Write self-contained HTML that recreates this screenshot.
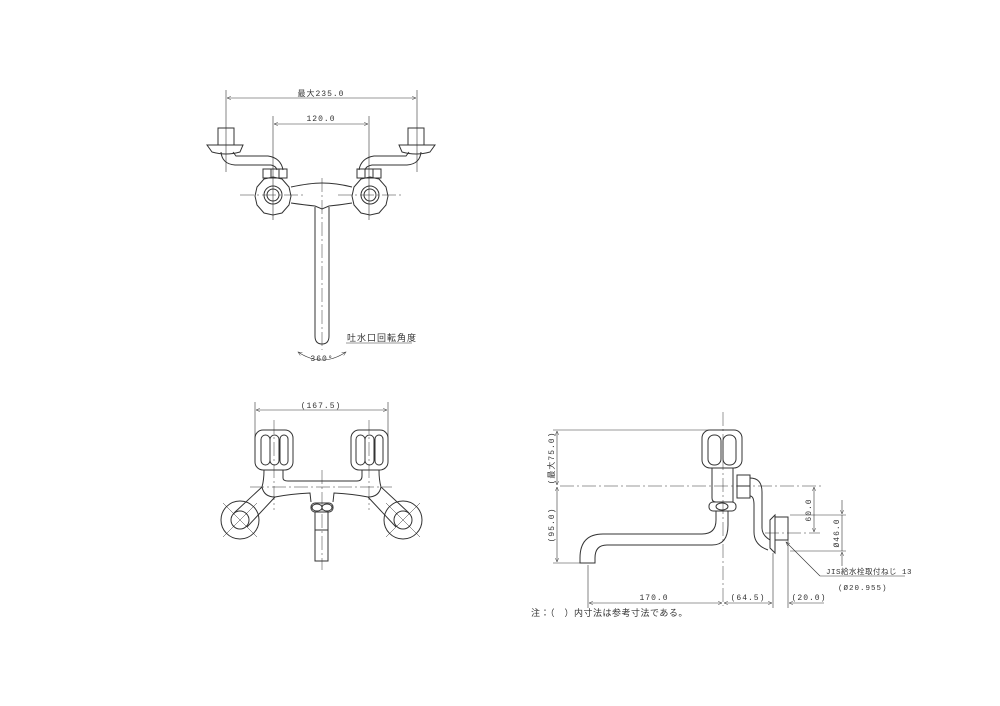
<!DOCTYPE html>
<html><head><meta charset="utf-8"><style>
html,body{margin:0;padding:0;background:#fff;}
svg{display:block;}
text{font-family:"Liberation Mono","Noto Sans CJK JP",monospace;fill:#333;letter-spacing:1px;}
</style></head><body>
<svg width="1000" height="706" viewBox="0 0 1000 706" xmlns="http://www.w3.org/2000/svg">
<defs>
<marker id="a" markerWidth="8" markerHeight="6" refX="7" refY="3" orient="auto-start-reverse"><path d="M0,0 L7,3 L0,6" fill="none" stroke="#444" stroke-width="0.8"/></marker>
</defs>
<g fill="none" stroke="#333" stroke-width="1">
<line x1="226" y1="90" x2="226" y2="172" stroke-width="0.6"/>
<line x1="417" y1="90" x2="417" y2="172" stroke-width="0.6"/>
<line x1="227" y1="98" x2="416" y2="98" stroke-width="0.6" marker-start="url(#a)" marker-end="url(#a)"/>
<line x1="273" y1="116" x2="273" y2="220" stroke-width="0.6"/>
<line x1="369" y1="116" x2="369" y2="220" stroke-width="0.6"/>
<line x1="274" y1="124" x2="368" y2="124" stroke-width="0.6" marker-start="url(#a)" marker-end="url(#a)"/>
<rect x="218" y="128" width="16" height="17"/>
<path d="M207,145 L243,145 L240,152 Q226,156 212,152 Z"/>
<path d="M221,152 Q222,164 235,165 L271,165 Q276,166 277,170"/>
<path d="M233,152 L236,156 L268,156 Q281,158 283,170"/>
<rect x="408" y="128" width="16" height="17"/>
<path d="M399,145 L435,145 L430,152 Q416,156 402,152 Z"/>
<path d="M421,152 Q420,164 407,165 L372,165 Q366,166 365,170"/>
<path d="M409,152 L406,156 L374,156 Q361,158 359,170"/>
<rect x="263" y="169" width="24" height="9"/>
<line x1="271" y1="169" x2="271" y2="178"/><line x1="279" y1="169" x2="279" y2="178"/>
<rect x="357" y="169" width="24" height="9"/>
<line x1="365" y1="169" x2="365" y2="178"/><line x1="373" y1="169" x2="373" y2="178"/>
<path d="M273,177 l9,2 l7,8 l2,9 l-2,9 l-7,8 l-9,2 l-9,-2 l-7,-8 l-2,-9 l2,-9 l7,-8 z"/>
<circle cx="273" cy="195" r="9"/><circle cx="273" cy="195" r="6"/>
<path d="M370,177 l9,2 l7,8 l2,9 l-2,9 l-7,8 l-9,2 l-9,-2 l-7,-8 l-2,-9 l2,-9 l7,-8 z"/>
<circle cx="370" cy="195" r="9"/><circle cx="370" cy="195" r="6"/>
<path d="M291,187 Q310,183 322,183 Q336,183 352,187"/>
<path d="M291,203 Q305,205 315,206 L322,209 L329,206 Q340,205 352,203"/>
<path d="M315,207 L315,336 Q315,344 322,344 Q329,344 329,336 L329,207"/>
<g stroke-width="0.5" stroke-dasharray="14,3,2,3">
<line x1="240" y1="195" x2="305" y2="195"/><line x1="338" y1="195" x2="403" y2="195"/>
<line x1="322" y1="178" x2="322" y2="350"/>
</g>
<line x1="346" y1="343" x2="412" y2="343" stroke-width="0.6"/>
<path d="M298,352 Q322,368 346,352" stroke-width="0.6" marker-start="url(#a)" marker-end="url(#a)"/>

<line x1="255" y1="402" x2="255" y2="450" stroke-width="0.6"/>
<line x1="388" y1="402" x2="388" y2="450" stroke-width="0.6"/>
<line x1="256" y1="410" x2="387" y2="410" stroke-width="0.6" marker-start="url(#a)" marker-end="url(#a)"/>
<rect x="255" y="430" width="38" height="40" rx="8"/>
<rect x="261" y="435" width="9" height="30" rx="4.5"/><rect x="270" y="435" width="9" height="30" rx="4.5"/><rect x="280" y="435" width="8" height="30" rx="4"/>
<rect x="351" y="430" width="37" height="40" rx="8"/>
<rect x="356" y="435" width="9" height="30" rx="4.5"/><rect x="365" y="435" width="9" height="30" rx="4.5"/><rect x="375" y="435" width="8" height="30" rx="4"/>
<path d="M283,470 L283,478 Q283,481 288,481 L357,481 Q362,481 362,476 L362,470"/>
<path d="M264,470 Q264,480 262,487 Q264,497 275,497 Q290,494 310,493 L311,502"/>
<path d="M379,470 Q379,480 381,487 Q379,497 368,497 Q353,494 334,493 L333,502"/>
<circle cx="240" cy="520" r="19"/><circle cx="240" cy="520" r="9"/>
<circle cx="403" cy="520" r="19"/><circle cx="403" cy="520" r="9"/>
<path d="M262,487 L234,513 M275,497 L247,527"/>
<path d="M381,487 L409,513 M368,497 L396,527"/>
<g stroke-width="0.5">
<line x1="223" y1="503" x2="257" y2="537"/><line x1="257" y1="503" x2="223" y2="537"/>
<line x1="386" y1="503" x2="420" y2="537"/><line x1="420" y1="503" x2="386" y2="537"/>
</g>
<rect x="311" y="503" width="22" height="9" rx="4"/>
<ellipse cx="317" cy="507.5" rx="5" ry="3.5"/><ellipse cx="327" cy="507.5" rx="5" ry="3.5"/>
<path d="M315,512 L315,561 L328,561 L328,512"/><line x1="315" y1="530" x2="328" y2="530"/>
<g stroke-width="0.5" stroke-dasharray="14,3,2,3">
<line x1="250" y1="487" x2="392" y2="487"/>
<line x1="274" y1="420" x2="274" y2="510"/><line x1="369" y1="420" x2="369" y2="510"/>
<line x1="322" y1="470" x2="322" y2="570"/>
</g>

<line x1="553" y1="430" x2="720" y2="430" stroke-width="0.6"/>
<line x1="553" y1="563" x2="590" y2="563" stroke-width="0.6"/>
<line x1="557" y1="431" x2="557" y2="485" stroke-width="0.6" marker-start="url(#a)" marker-end="url(#a)"/>
<line x1="557" y1="487" x2="557" y2="562" stroke-width="0.6" marker-start="url(#a)" marker-end="url(#a)"/>
<rect x="702" y="430" width="40" height="38" rx="8"/>
<rect x="708" y="435" width="13" height="30" rx="6"/><rect x="723" y="435" width="13" height="30" rx="6"/>
<path d="M712,468 L712,498 Q712,502 716,502 L733,502 L733,468"/>
<rect x="737" y="475" width="13" height="23"/><line x1="737" y1="486" x2="750" y2="486"/>
<rect x="709" y="502" width="27" height="9" rx="4"/><ellipse cx="722" cy="506.5" rx="6" ry="3.5"/>
<path d="M716,511 L716,520 Q716,534 702,534 L603,534 Q580,534 580,558 L580,563 L595,563 L595,558 Q595,545 607,545 L712,545 Q728,545 728,525 L728,511"/>
<path d="M750,478 Q762,478 762,492 L762,528 Q762,535 770,540"/>
<path d="M750,496 Q754,496 754,505 L754,532 Q754,545 768,550"/>
<path d="M775,515 L770,520 L770,548 L775,553 Z"/>
<rect x="775" y="517" width="13" height="23"/>
<g stroke-width="0.5" stroke-dasharray="14,3,2,3">
<line x1="560" y1="486" x2="822" y2="486"/>
<line x1="723" y1="412" x2="723" y2="606"/>
<line x1="765" y1="533" x2="820" y2="533"/>
</g>
<g stroke-width="0.6">
<line x1="814" y1="487" x2="814" y2="532" marker-start="url(#a)" marker-end="url(#a)"/>
<line x1="790" y1="515" x2="846" y2="515"/><line x1="790" y1="551" x2="846" y2="551"/>
<line x1="842" y1="500" x2="842" y2="514" marker-end="url(#a)"/>
<line x1="842" y1="566" x2="842" y2="552" marker-end="url(#a)"/>
<line x1="842" y1="515" x2="842" y2="551"/>
<line x1="588" y1="565" x2="588" y2="608"/>
<line x1="773" y1="553" x2="773" y2="608"/>
<line x1="788" y1="540" x2="788" y2="608"/>
<line x1="589" y1="603" x2="722" y2="603" marker-start="url(#a)" marker-end="url(#a)"/>
<line x1="724" y1="603" x2="772" y2="603" marker-start="url(#a)" marker-end="url(#a)"/>
<line x1="789" y1="603" x2="824" y2="603" marker-start="url(#a)"/>
<line x1="820" y1="576" x2="786" y2="542" marker-end="url(#a)"/>
<line x1="820" y1="576" x2="905" y2="576"/>
</g>
</g>
<g font-size="8">
<text x="321" y="96" text-anchor="middle">最大235.0</text>
<text x="321" y="121" text-anchor="middle">120.0</text>
<text x="347" y="341" font-size="9">吐水口回転角度</text>
<text x="322" y="361" text-anchor="middle">360°</text>
<text x="321" y="408" text-anchor="middle">(167.5)</text>
<text x="654" y="600" text-anchor="middle">170.0</text>
<text x="748" y="600" text-anchor="middle">(64.5)</text>
<text x="809" y="600" text-anchor="middle">(20.0)</text>
<text x="826" y="574" font-size="7.5" style="letter-spacing:0.5px">JIS給水栓取付ねじ 13</text>
<text x="838" y="590" font-size="7.5">(Ø20.955)</text>
<text transform="translate(554,458) rotate(-90)" text-anchor="middle">(最大75.0)</text>
<text transform="translate(554,525) rotate(-90)" text-anchor="middle">(95.0)</text>
<text transform="translate(811,510) rotate(-90)" text-anchor="middle">60.0</text>
<text transform="translate(839,533) rotate(-90)" text-anchor="middle">Ø46.0</text>
<text x="531" y="616" font-size="9" style="letter-spacing:0.5px">注：（　）内寸法は参考寸法である。</text>
</g>
</svg>
</body></html>
